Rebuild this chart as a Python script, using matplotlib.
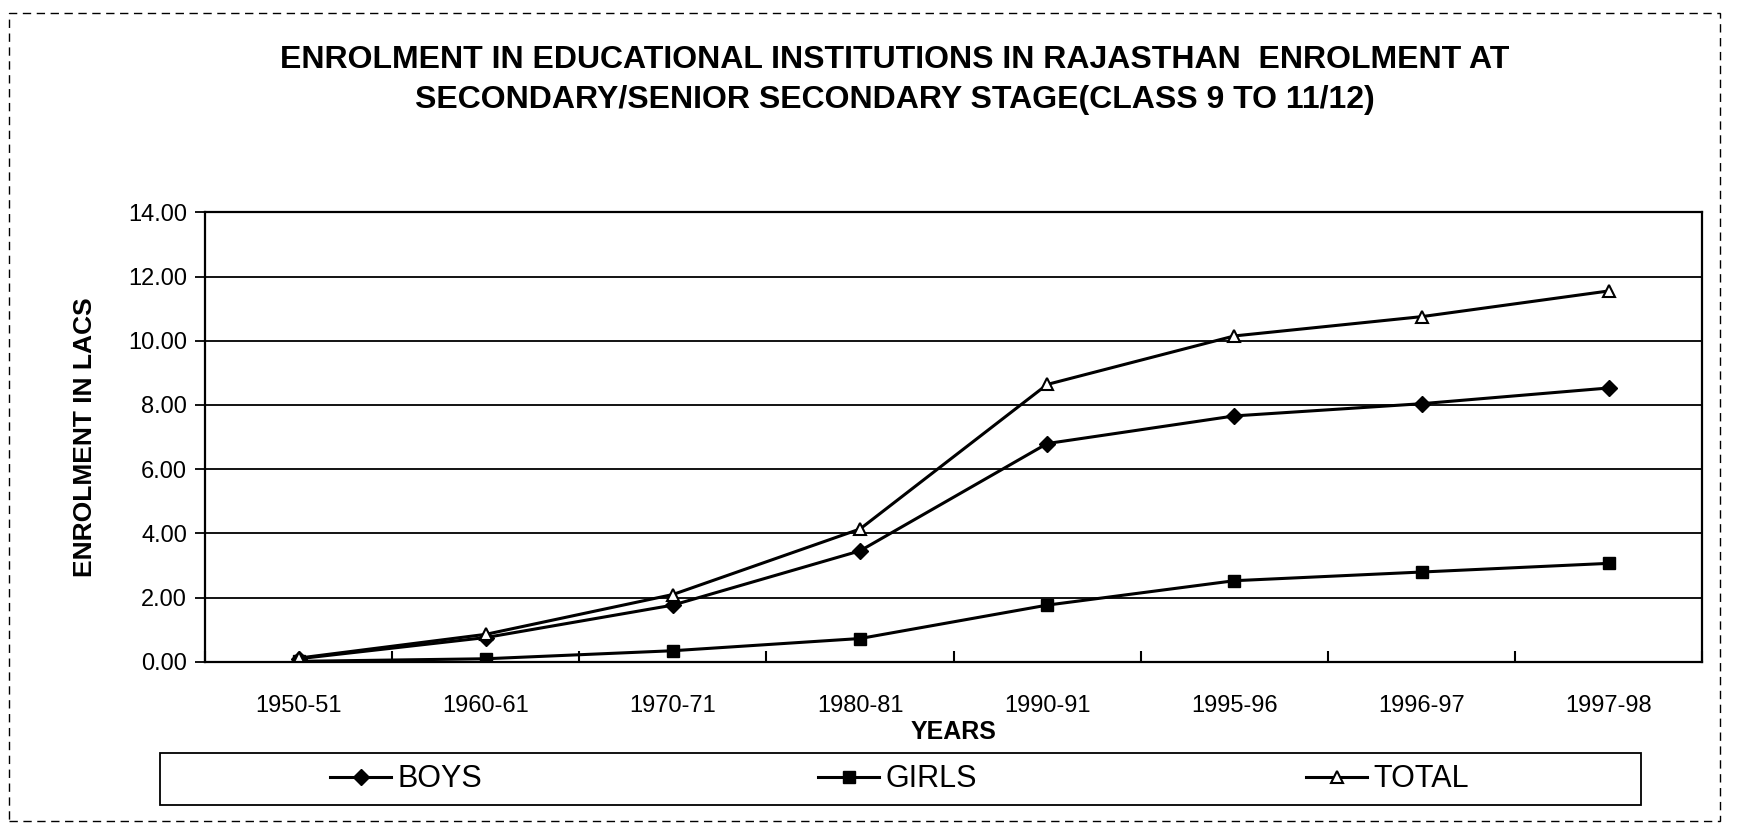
import matplotlib
matplotlib.use("Agg")
import matplotlib.pyplot as plt
from matplotlib.patches import Rectangle
import numpy as np

years = ["1950-51", "1960-61", "1970-71", "1980-81", "1990-91", "1995-96", "1996-97", "1997-98"]
boys = [0.10, 0.76, 1.77, 3.46, 6.80, 7.66, 8.04, 8.53]
girls = [0.02, 0.10, 0.35, 0.73, 1.77, 2.53, 2.80, 3.07]
total = [0.12, 0.86, 2.10, 4.14, 8.64, 10.15, 10.75, 11.55]
yticks = [0, 2, 4, 6, 8, 10, 12, 14]
series_names = ["BOYS", "GIRLS", "TOTAL"]

plt.rcParams['font.family'] = ['Liberation Sans', 'DejaVu Sans']

fig = plt.figure(figsize=(17.37, 8.39), dpi=100)
ax = fig.add_axes([0.118, 0.211, 0.862, 0.536])

x = np.arange(len(years))
styles = [
    dict(marker='D', ms=8, mfc='black', mec='black'),
    dict(marker='s', ms=8, mfc='black', mec='black'),
    dict(marker='^', ms=9, mfc='white', mec='black', mew=1.5),
]
handles = []
for vals, name, st in zip([boys, girls, total], series_names, styles):
    h, = ax.plot(x, vals, color='black', lw=2.2, label=name, **st)
    handles.append(h)

ax.set_xlim(-0.5, len(years) - 0.5)
ax.set_ylim(0, 14)
ax.set_yticks(yticks)
ax.set_yticklabels([f"{v:.2f}" for v in yticks], fontsize=17)
ax.yaxis.grid(True, color='black', lw=1.3)
ax.set_axisbelow(True)
ax.set_xticks(x)
ax.set_xticklabels(years, fontsize=17)
ax.set_xticks(np.arange(-0.5, len(years), 1), minor=True)
ax.tick_params(axis='x', which='major', length=0, pad=24)
ax.tick_params(axis='x', which='minor', length=8, width=1.5, direction='in')
ax.tick_params(axis='y', length=7, width=1.3, pad=6)
for s in ax.spines.values():
    s.set_linewidth(1.6)
    s.set_color('black')

ax.set_ylabel("ENROLMENT IN LACS", fontsize=19, fontweight='bold', labelpad=22)
ax.set_xlabel("YEARS", fontsize=18, fontweight='bold', labelpad=2)

fig.text(0.515, 0.905, "ENROLMENT IN EDUCATIONAL INSTITUTIONS IN RAJASTHAN  ENROLMENT AT\n"
         "SECONDARY/SENIOR SECONDARY STAGE(CLASS 9 TO 11/12)",
         ha='center', va='center', fontsize=23, fontweight='bold', linespacing=1.45)

# legend box and entries
fig.patches.append(Rectangle((0.092, 0.040), 0.853, 0.062, transform=fig.transFigure,
                             fill=False, lw=1.3, color='black'))
anchors = [0.190, 0.471, 0.752]
for h, name, xa in zip(handles, series_names, anchors):
    fig.legend([h], [name], loc='center left', bbox_to_anchor=(xa, 0.071), frameon=False,
               fontsize=22, handlelength=2.0, handletextpad=0.2, borderaxespad=0, borderpad=0)

fig.patches.append(Rectangle((0.005, 0.022), 0.985, 0.963, transform=fig.transFigure,
                             fill=False, ls=(0, (6, 4)), lw=1, color='black'))

fig.savefig("out.png", dpi=100, facecolor='white')
